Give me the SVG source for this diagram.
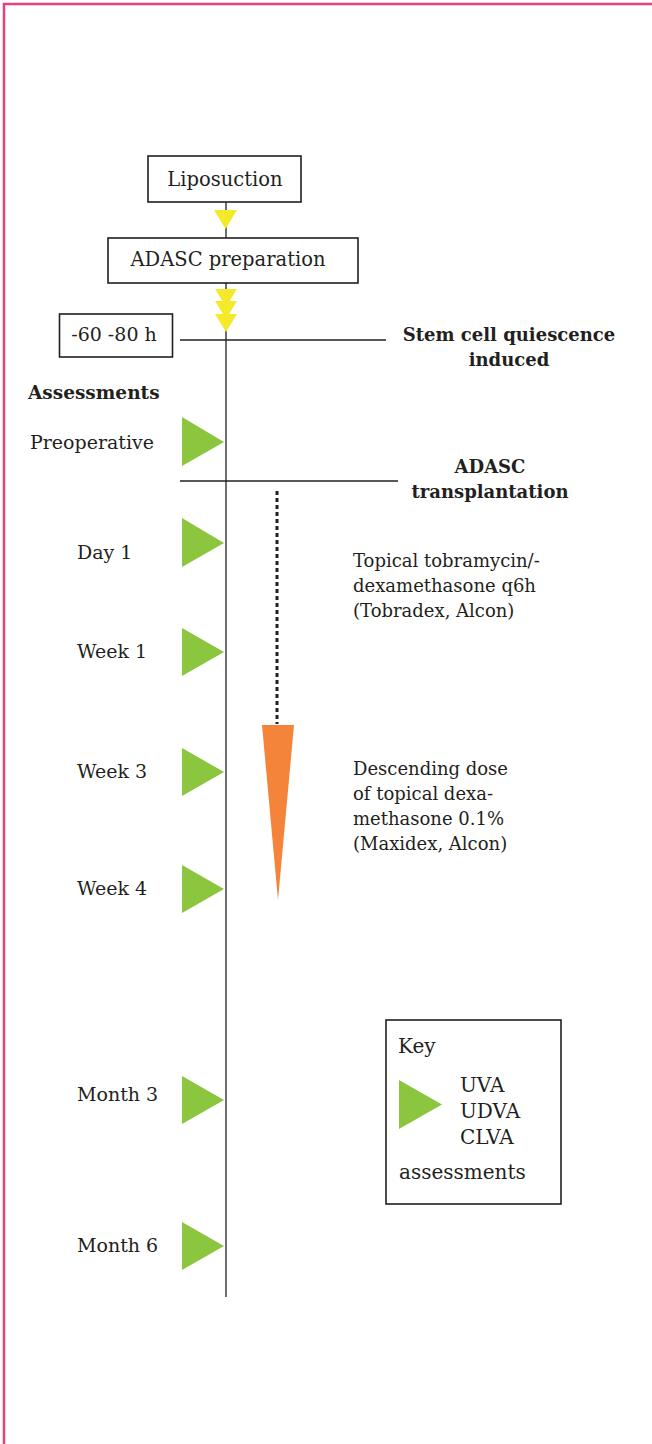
<svg xmlns="http://www.w3.org/2000/svg" width="652" height="1444" viewBox="0 0 652 1444">
<style>
text{font-family:"DejaVu Serif","Liberation Serif",serif;font-size:18px;fill:#231f20}
.b{font-weight:bold;font-size:18px}
.ba{font-weight:bold;font-size:18.5px}
.l{font-weight:300}
.m{font-size:19px}
.bx{font-size:19.5px}
.k{font-size:20px}
.box{fill:#fff;stroke:#231f20;stroke-width:1.6}
.hl{stroke:#231f20;stroke-width:1.3}
.g{fill:#8cc63f}
.y{fill:#f4ea2a}
</style>
<rect x="4" y="4" width="700" height="1500" fill="none" stroke="#e8407f" stroke-width="2.5"/>
<g id="connectors">
<line x1="226" y1="202" x2="226" y2="1297" stroke="#6d6e71" stroke-width="2"/>
<line class="hl" x1="180" y1="340" x2="386" y2="340"/>
<line class="hl" x1="180" y1="481" x2="398" y2="481"/>
<line x1="277" y1="491" x2="277" y2="724" stroke="#231f20" stroke-width="3" stroke-dasharray="4 3"/>
<polygon class="y" points="214,210 237,210 225.5,229"/>
<polygon class="y" points="215,289 237,289 226,307"/>
<polygon class="y" points="215,301 237,301 226,319"/>
<polygon class="y" points="215,314 237,314 226,332"/>
<polygon points="262,725 294,725 278,900" fill="#f48439"/>
</g>
<g id="liposuction">
<rect class="box" x="148" y="156" width="153" height="46"/>
<text class="bx" x="225" y="186" text-anchor="middle">Liposuction</text>
</g>
<g id="adasc-prep">
<rect class="box" x="108" y="238" width="250" height="45"/>
<text class="bx" x="228" y="266" text-anchor="middle">ADASC preparation</text>
</g>
<g id="hours">
<rect class="box" x="59.5" y="314" width="113" height="43"/>
<text class="m" x="114" y="341" text-anchor="middle">-60 -80 h</text>
</g>
<g id="quiescence">
<text class="b" x="509" y="341" text-anchor="middle">Stem cell quiescence</text>
<text class="b" x="509" y="366" text-anchor="middle">induced</text>
</g>
<g id="transplant">
<text class="b" x="490" y="473" text-anchor="middle">ADASC</text>
<text class="b" x="490" y="498" text-anchor="middle">transplantation</text>
</g>
<g id="assessments">
<text class="ba" x="28" y="399">Assessments</text>
</g>
<g id="preop">
<polygon class="g" points="182,417 224,442 182,466"/>
<text class="m" x="30" y="449">Preoperative</text>
</g>
<g id="day1">
<polygon class="g" points="182,518 224,543 182,567"/>
<text class="m" x="77" y="559">Day 1</text>
</g>
<g id="week1">
<polygon class="g" points="182,628 224,652 182,676"/>
<text class="m" x="77" y="658">Week 1</text>
</g>
<g id="week3">
<polygon class="g" points="182,748 224,772 182,796"/>
<text class="m" x="77" y="778">Week 3</text>
</g>
<g id="week4">
<polygon class="g" points="182,865 224,889 182,913"/>
<text class="m" x="77" y="895">Week 4</text>
</g>
<g id="month3">
<polygon class="g" points="182,1076 224,1100 182,1124"/>
<text class="m" x="77" y="1101">Month 3</text>
</g>
<g id="month6">
<polygon class="g" points="182,1222 224,1246 182,1270"/>
<text class="m" x="77" y="1252">Month 6</text>
</g>
<g id="tobradex">
<text class="l" x="353" y="567">Topical tobramycin/-</text>
<text class="l" x="353" y="592">dexamethasone q6h</text>
<text class="l" x="353" y="617">(Tobradex, Alcon)</text>
</g>
<g id="maxidex">
<text class="l" x="353" y="775">Descending dose</text>
<text class="l" x="353" y="800">of topical dexa-</text>
<text class="l" x="353" y="825">methasone 0.1%</text>
<text class="l" x="353" y="850">(Maxidex, Alcon)</text>
</g>
<g id="key">
<rect class="box" x="386" y="1020" width="175" height="184"/>
<text class="k" x="398" y="1053">Key</text>
<polygon class="g" points="399,1080 442,1104.5 399,1129"/>
<text class="k" x="460" y="1092">UVA</text>
<text class="k" x="460" y="1118">UDVA</text>
<text class="k" x="460" y="1144">CLVA</text>
<text class="k" x="399" y="1179">assessments</text>
</g>
</svg>
